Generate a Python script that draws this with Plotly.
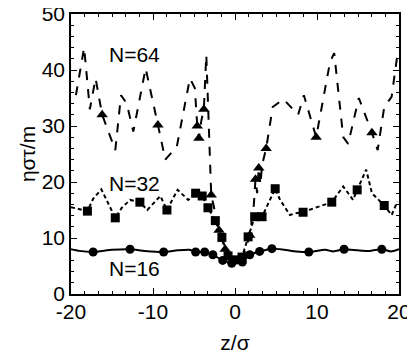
import plotly.graph_objects as go

# N=64 (dashed, triangles)
z64 = [-19.4, -18.4, -17.7, -17.0, -16.2, -14.6, -13.9, -13.2, -12.4, -10.9, -9.4, -8.5,
       -7.1, -5.5, -4.9, -4.6, -4.4, -4.1, -3.8, -3.5, -2.9, -1.95, -1.2, -0.4, 0.5, 1.2,
       1.8, 2.3, 2.5, 2.7, 2.9, 3.1, 3.3, 3.8, 4.6, 5.9, 7.7, 8.4, 9.9, 11.6, 12.1, 13.2,
       13.8, 15.1, 16.7, 17.4, 18.2, 19.1, 19.8]
eta64 = [35.5, 44, 33, 38.5, 32, 25.7, 35.5, 34, 29, 40.3, 30.2, 24,
         26.3, 38.5, 36.8, 30, 27.8, 31, 33, 42.7, 17.7, 11.4, 8, 6.2, 6, 7.5,
         10.5, 16, 20.5, 18, 22.5, 19.5, 23, 26, 33.4, 34.8, 32, 35.5, 28, 41.5, 43, 28,
         26.8, 35, 28.8, 25.7, 33.4, 35.2, 42.7]
mark64 = [4, 10, 15, 16, 18, 20, 21, 22, 26, 28, 30, 33, 38, 44]

# N=32 (dotted, squares)
z32 = [-20, -18.0, -17.3, -16.3, -14.6, -13.8, -12.8, -11.6, -10.7, -9.1, -8.3, -7.0,
       -5.7, -4.8, -4.0, -3.3, -2.4, -1.6, -0.85, 0, 0.85, 1.6, 2.4, 3.3, 4.9, 5.5,
       6.7, 7.3, 8.3, 9.8, 11.8, 13.2, 14.4, 14.9, 16.0, 16.7, 18.2, 19.1, 19.8]
eta32 = [15.5, 14.8, 17, 18.7, 13.6, 15.4, 16.8, 16.4, 15, 17.5, 15, 18.6,
         16.8, 18, 17.5, 15.4, 13.1, 10.1, 6.8, 6.1, 6.6, 10.2, 13.8, 13.8, 18.8, 16.8,
         14.1, 14.4, 14.6, 15.4, 16.4, 19.2, 16.8, 18.6, 22.2, 18, 15.8, 14.1, 16.5]
mark32 = [1, 4, 7, 10, 13, 14, 15, 16, 17, 18, 19, 20, 21, 22, 23, 24, 28, 30, 33, 36]

# N=16 (solid, circles)
z16 = [-20, -19, -17.3, -15, -12.8, -11, -8.7, -7, -5.6, -4.8, -3.7, -2.7, -1.5, -0.4,
       0.9, 1.8, 3.0, 4.5, 6, 7.5, 9, 11, 12, 13.3, 15, 16.5, 17.9, 19, 20]
eta16 = [8, 7.7, 7.5, 7.9, 8, 7.7, 7.5, 7.8, 7.9, 7.5, 7.5, 7, 6, 5.5,
         5.7, 7, 7.6, 8.1, 7.9, 7.6, 7.5, 7.9, 7.6, 8, 7.8, 7.7, 8, 7.6, 8]
mark16 = [2, 4, 6, 9, 10, 11, 12, 13, 14, 15, 16, 17, 20, 23, 26]

labels = ["N=64", "N=32", "N=16"]
label_x = [-12.3, -12.3, -12.3]
label_y = [42.7, 19.8, 4.6]

xtick_vals = [-20, -10, 0, 10, 20]
xtick_text = ["-20", "-10", "0", "10", "20"]

fig = go.Figure()

series = [
    (z64, eta64, mark64, "dash", "triangle-up", 10, "linear"),
    (z32, eta32, mark32, "4px,3px", "square", 9, "linear"),
    (z16, eta16, mark16, "solid", "circle", 9, "spline"),
]
for z, eta, marks, dash, sym, msize, shape in series:
    fig.add_trace(go.Scatter(
        x=z, y=eta, mode="lines",
        line=dict(color="black", width=2, dash=dash, shape=shape, smoothing=0.6),
        showlegend=False))
    fig.add_trace(go.Scatter(
        x=[z[i] for i in marks], y=[eta[i] for i in marks], mode="markers",
        marker=dict(symbol=sym, size=msize, color="black"),
        showlegend=False))

for txt, lx, ly in zip(labels, label_x, label_y):
    fig.add_annotation(x=lx, y=ly, text=txt, showarrow=False,
                       font=dict(size=21, color="black"))

axis_common = dict(
    showline=True, linecolor="black", linewidth=1.5, mirror="allticks",
    ticks="inside", ticklen=6, tickwidth=1.2, tickcolor="black",
    showgrid=False, zeroline=False, automargin=False, ticklabeloverflow="allow",
    tickfont=dict(size=21, color="black"),
)

fig.update_xaxes(range=[-20, 20], tickmode="array", tickvals=xtick_vals, ticktext=xtick_text,
                 ticklabelstandoff=-2,
                 minor=dict(dtick=10 / 6, tick0=0, ticks="inside", ticklen=3, tickcolor="black"),
                 title=dict(text="z/σ", font=dict(size=21, color="black"), standoff=17),
                 **axis_common)
fig.update_yaxes(range=[0, 50], dtick=10, tick0=0,
                 minor=dict(dtick=2, ticks="inside", ticklen=3, tickcolor="black"),
                 title=dict(text="ηστ/m", font=dict(size=21, color="black"), standoff=0),
                 **axis_common)

# page body has an 8px margin, so the figure is drawn 8px smaller and offset
fig.update_layout(
    width=407, height=346,
    margin=dict(l=63, r=16, t=6, b=60),
    plot_bgcolor="white", paper_bgcolor="white",
    font=dict(family="Liberation Sans, Arial, sans-serif", color="black"),
)

fig.write_html("out.html")
